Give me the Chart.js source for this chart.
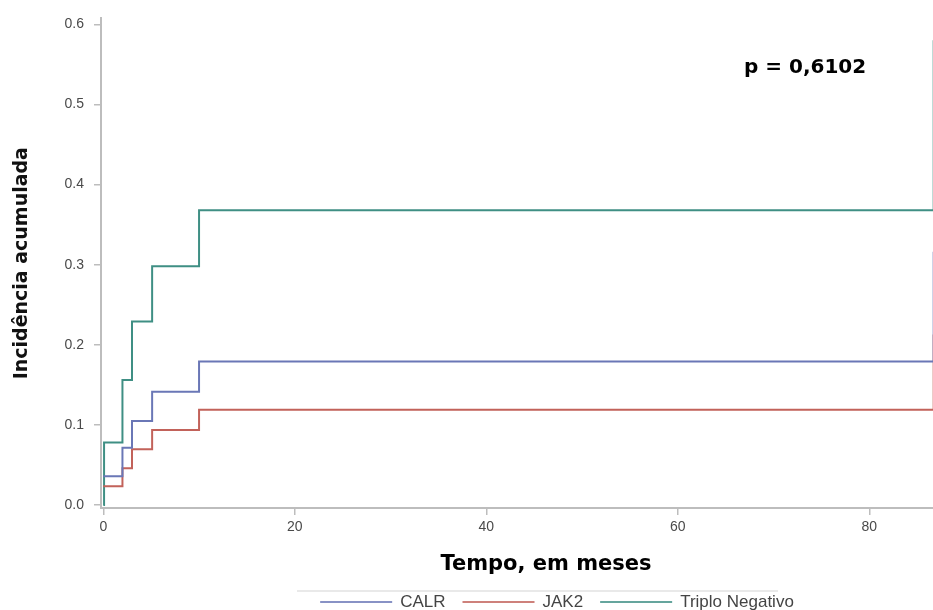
<!DOCTYPE html>
<html>
<head>
<meta charset="utf-8">
<script src="https://cdn.jsdelivr.net/npm/chart.js@4.4.1/dist/chart.umd.min.js"></script>
<style>
  html, body { margin: 0; padding: 0; background: #fff; }
</style>
</head>
<body>
<canvas id="myChart" width="933" height="610"></canvas>
<script>
// cumulative incidence by mutation group (step functions, months)
const groups = ['CALR', 'JAK2', 'Triplo Negativo'];
const colors = ['#6a77b6', '#c2625a', '#3f8f84'];

const calrTimes = [0, 2.0, 3.0, 5.1, 10.0, 86.72];
const calrValues = [0.036, 0.0714, 0.105, 0.1415, 0.179, 0.316];

const jak2Times = [0, 2.0, 3.0, 5.1, 10.0, 86.72];
const jak2Values = [0.0235, 0.046, 0.0697, 0.0937, 0.119, 0.213];

const tnTimes = [0, 0.08, 2.0, 3.0, 5.1, 10.0, 86.72];
const tnValues = [0, 0.078, 0.156, 0.229, 0.298, 0.368, 0.58];

const xTicks = [0, 20, 40, 60, 80];
const yTicks = [0, 0.1, 0.2, 0.3, 0.4, 0.5, 0.6];

const xTitle = 'Tempo, em meses';
const yTitle = 'Incidência acumulada';
const pText = 'p = 0,6102';

const axisGray = '#bdbdbd';
const tickFont = { family: 'Liberation Sans, Arial, sans-serif', size: 14 };

function toPoints(times, values) {
  return times.map((t, i) => ({ x: t, y: values[i] }));
}

const series = [
  toPoints(calrTimes, calrValues),
  toPoints(jak2Times, jak2Values),
  toPoints(tnTimes, tnValues),
];

// legend row, x title and p-value drawn on top of the chart
const extras = {
  id: 'extras',
  afterDraw(chart) {
    const { ctx } = chart;
    ctx.save();

    ctx.fillStyle = '#000';
    ctx.font = 'bold 20px "DejaVu Sans", sans-serif';
    ctx.textAlign = 'left';
    ctx.textBaseline = 'middle';
    ctx.fillText(pText, 744, 68);

    ctx.font = 'bold 21px "DejaVu Sans", sans-serif';
    ctx.textAlign = 'center';
    ctx.fillText(xTitle, 546, 565);

    ctx.strokeStyle = '#e2e2e2';
    ctx.lineWidth = 1.5;
    ctx.beginPath();
    ctx.moveTo(297, 591);
    ctx.lineTo(778, 591);
    ctx.stroke();

    ctx.font = '17px "Liberation Sans", Arial, sans-serif';
    ctx.textAlign = 'left';
    const lineLen = 72;
    const gap = 8;
    const spacing = 17;
    const widths = groups.map((g) => lineLen + gap + ctx.measureText(g).width);
    const total = widths.reduce((a, b) => a + b, 0) + spacing * (groups.length - 1);
    let x = 557 - total / 2;
    const y = 602;
    groups.forEach((g, i) => {
      ctx.strokeStyle = colors[i];
      ctx.globalAlpha = 0.8;
      ctx.lineWidth = 2;
      ctx.beginPath();
      ctx.moveTo(x, y);
      ctx.lineTo(x + lineLen, y);
      ctx.stroke();
      ctx.globalAlpha = 1;
      ctx.fillStyle = '#444';
      ctx.fillText(g, x + lineLen + gap, y);
      x += widths[i] + spacing;
    });

    ctx.restore();
  },
};

const chartConfig = {
  type: 'line',
  data: {
    datasets: series.map((pts, i) => ({
      label: groups[i],
      data: pts,
      borderColor: colors[i],
      backgroundColor: colors[i],
      borderWidth: 2,
      stepped: true,
      pointRadius: 0,
      fill: false,
    })),
  },
  options: {
    responsive: false,
    animation: false,
    layout: { padding: { top: 14, right: 0, left: 0, bottom: 0 } },
    plugins: {
      legend: { display: false },
      tooltip: { enabled: false },
    },
    scales: {
      x: {
        type: 'linear',
        min: -0.24,
        max: 86.65,
        afterBuildTicks: (scale) => { scale.ticks = xTicks.map((v) => ({ value: v })); },
        afterFit: (scale) => { scale.height = 102; },
        grid: { drawOnChartArea: false, tickLength: 7, color: axisGray, lineWidth: 1.5 },
        border: { color: axisGray, width: 2 },
        ticks: { font: tickFont, color: '#4a4a4a', padding: 4, maxRotation: 0 },
      },
      y: {
        type: 'linear',
        min: -0.0037,
        max: 0.6074,
        afterBuildTicks: (scale) => { scale.ticks = yTicks.map((v) => ({ value: v })); },
        afterFit: (scale) => { scale.width = 101; },
        grid: { drawOnChartArea: false, tickLength: 7, color: axisGray, lineWidth: 1.5 },
        border: { color: axisGray, width: 2 },
        ticks: {
          font: tickFont,
          color: '#4a4a4a',
          padding: 10,
          callback: (v) => v.toFixed(1),
        },
        title: {
          display: true,
          text: yTitle,
          color: '#111',
          font: { family: '"DejaVu Sans", sans-serif', size: 19, weight: 'bold' },
          padding: { top: 11, bottom: 0 },
        },
      },
    },
  },
  plugins: [extras],
};

const ctx = document.getElementById('myChart').getContext('2d');
const chart = new Chart(ctx, chartConfig);
</script>
</body>
</html>
